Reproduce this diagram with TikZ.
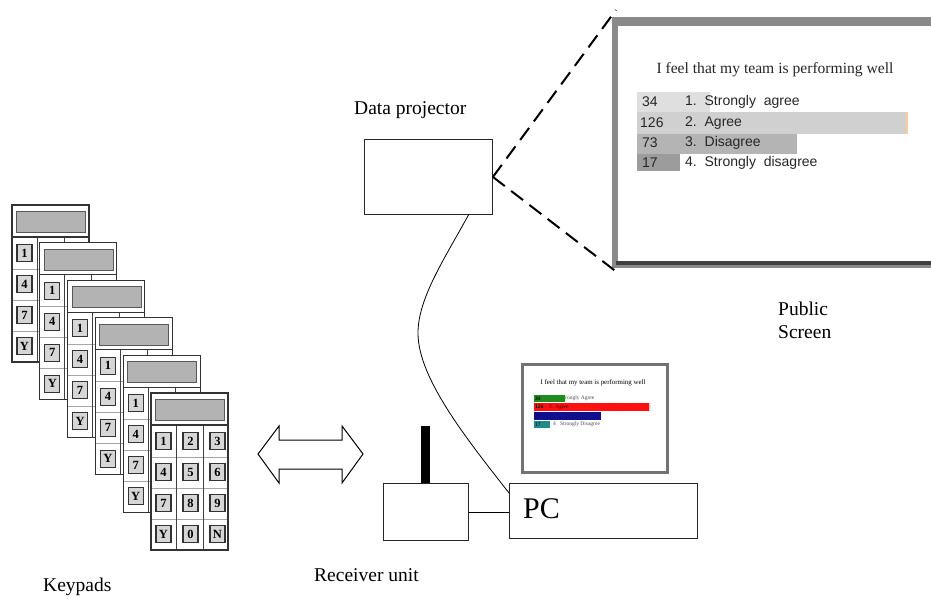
\documentclass[tikz,border=0pt]{standalone}
\usepackage{fontspec}
\setmainfont{Liberation Serif}
\setsansfont{Liberation Sans}
\definecolor{framegray}{HTML}{8A8A8A}
\definecolor{dispgray}{HTML}{B3B3B3}
\definecolor{btngray}{HTML}{D6D6D6}
\definecolor{barA}{HTML}{DFDFDF}
\definecolor{barB}{HTML}{D0D0D0}
\definecolor{barC}{HTML}{B4B4B4}
\definecolor{barD}{HTML}{9C9C9C}
\definecolor{thGreen}{HTML}{1E8C1E}
\definecolor{thRed}{HTML}{FF1010}
\definecolor{thBlue}{HTML}{10108C}
\definecolor{thTeal}{HTML}{1E8C8C}
\tikzset{
  box/.style={draw=black!85, line width=0.9pt, fill=white, inner sep=0pt},
  lbl/.style={font=\fontsize{19.5}{22}\selectfont, inner sep=0pt},
  keybtn/.style={draw=black!80, line width=1.1pt, fill=btngray, inner sep=0pt,
    minimum width=15pt, minimum height=17pt, font=\bfseries\fontsize{12.5}{13}\selectfont},
  beam/.style={line width=2pt, dash pattern=on 15pt off 8pt},
  cable/.style={line width=0.8pt},
  barnum/.style={font=\sffamily\fontsize{14}{16}\selectfont, inner sep=0pt, anchor=west, text=black!85},
  thtext/.style={font=\fontsize{5.5}{6}\selectfont, inner sep=0pt, anchor=west}
}
\begin{document}
\begin{tikzpicture}[x=1pt,y=-1pt]
\useasboundingbox (0,0) rectangle (931,599);

% ---------- stack of keypads ----------
% each keypad hides all but the display and the left key column of the one behind it,
% so the back keypads only carry that column of keys
\foreach \k in {0,...,5}{
  \begin{scope}[shift={(12+27.8*\k,205+37.6*\k)}]
    \fill[white] (0,0) rectangle (77,157);
    \draw[black!35, line width=1pt] (0,64) -- (77,64) (0,95) -- (77,95) (0,126) -- (77,126);
    \draw[black!75, line width=1pt] (25,32) -- (25,157) (52,32) -- (52,157);
    \draw[black!80, line width=1.3pt] (0,32) -- (77,32);
    \draw[black!80, line width=1.3pt] (0,0) rectangle (77,157);
    \node[draw=black!65, line width=0.9pt, fill=dispgray, inner sep=0pt,
          minimum width=69pt, minimum height=21pt, anchor=north west] (kp\k-disp) at (4,6) {};
    \ifnum\k=5
      \foreach \lab [count=\i from 0] in {1,2,3,4,5,6,7,8,9,Y,0,N}{
        \pgfmathtruncatemacro{\row}{int(\i/3)}
        \pgfmathtruncatemacro{\col}{mod(\i,3)}
        \node[keybtn] (kp\k-key\i) at (12.5+27*\col, 48+31*\row) {\lab};
      }
    \else
      \foreach \lab [count=\row from 0] in {1,4,7,Y}{
        \node[keybtn] (kp\k-key\row) at (12.5, 48+31*\row) {\lab};
      }
    \fi
  \end{scope}
}
\node[lbl, anchor=base west] (keypadslbl) at (43,591) {Keypads};

% ---------- radio link ----------
\draw[line width=1pt, fill=white] (258,454) -- (279,426) -- (279,440) -- (342,440) -- (342,426)
  -- (363,454) -- (342,483) -- (342,469) -- (279,469) -- (279,483) -- cycle;

% ---------- receiver and PC ----------
\node[box, minimum width=85pt, minimum height=57pt, anchor=north west] (recv) at (383,483) {};
\node[fill=black, inner sep=0pt, minimum width=9pt, minimum height=57pt, anchor=south] (antenna) at (recv.north) {};
\node[lbl, anchor=base west] (recvlbl) at (314,581) {Receiver unit};

\node[box, minimum width=188pt, minimum height=55pt, anchor=north west] (pc) at (509,483) {};
\node[font=\fontsize{30}{32}\selectfont, inner sep=0pt, anchor=base west] (pclbl) at (523,518) {PC};
\draw[line width=0.9pt] (recv.east) -- (recv.east -| pc.west);

% ---------- monitor thumbnail ----------
\node[draw=black!55, line width=3pt, fill=white, inner sep=0pt,
      minimum width=145pt, minimum height=108pt, anchor=north west] (monitor) at (521,363) {};
\node[font=\fontsize{6.9}{7}\selectfont, inner sep=0pt] (thtitle) at (593,383) {I feel that my team is performing well};
\fill[thGreen] (534,395) rectangle (565,402);
\fill[thRed]   (534,403) rectangle (649,411);
\fill[thBlue]  (534,412) rectangle (601,420);
\fill[thTeal]  (534,421) rectangle (550,428);
\node[thtext] (th1n) at (535,398.5) {\textbf{34}};
\node[thtext, text=black!70] (th1) at (565,398.5) {rongly Agree};
\node[thtext] (th2n) at (535,407) {\textbf{126}};
\node[thtext, text=black!70!red] (th2) at (549,407) {2. Agree};
\node[thtext, text=black!60!blue] (th3n) at (535,416) {73};
\node[thtext] (th4n) at (535,424.5) {17};
\node[thtext, text=black!70] (th4) at (553,424.5) {4 \ \ Strongly Disagree};

% ---------- data projector ----------
\node[box, minimum width=128pt, minimum height=75pt, anchor=north west] (proj) at (364,139) {};
\node[lbl, anchor=base west] (projlbl) at (354,114) {Data projector};
\coordinate (cableTop) at (469,214);
\coordinate (cableEnd) at (509,493);
\draw[cable] (cableTop) .. controls (445,258) and (418,298) .. (418,333)
  .. controls (418,378) and (466,438) .. (cableEnd);

% ---------- public screen ----------
\fill[framegray] (612,17) rectangle (940,268);
\fill[white] (618,26) rectangle (940,261);
\fill[black!75] (616,261) rectangle (940,264.5);
\node[font=\fontsize{15.6}{17}\selectfont, inner sep=0pt, text=black!85] (sctitle) at (775,70) {I feel that my team is performing well};
\fill[barA] (637,92) rectangle (710,112);
\fill[barB] (637,112) rectangle (907,134);
\fill[orange!40] (905.5,112) rectangle (907.5,134);
\fill[barC] (637,134) rectangle (797,154);
\fill[barD] (637,154) rectangle (680,171);
\node[barnum] (n1) at (642,102) {34};
\node[barnum] (n2) at (640,123) {126};
\node[barnum] (n3) at (642,143) {73};
\node[barnum] (n4) at (642,163) {17};
\node[barnum] (a1) at (685,102) {1.\ \ Strongly\ \ agree};
\node[barnum] (a2) at (685,123) {2.\ \ Agree};
\node[barnum] (a3) at (685,143) {3.\ \ Disagree};
\node[barnum] (a4) at (685,163) {4.\ \ Strongly\ \ disagree};
\node[lbl, anchor=base west] (publbl) at (778,315) {Public};
\node[lbl, anchor=base west] (scrlbl) at (778,338) {Screen};

% projection beam
\coordinate (beamTop) at (616,10);
\coordinate (beamBot) at (618,273);
\draw[beam] (proj.east) -- (beamTop);
\draw[beam] (proj.east) -- (beamBot);
\end{tikzpicture}
\end{document}
